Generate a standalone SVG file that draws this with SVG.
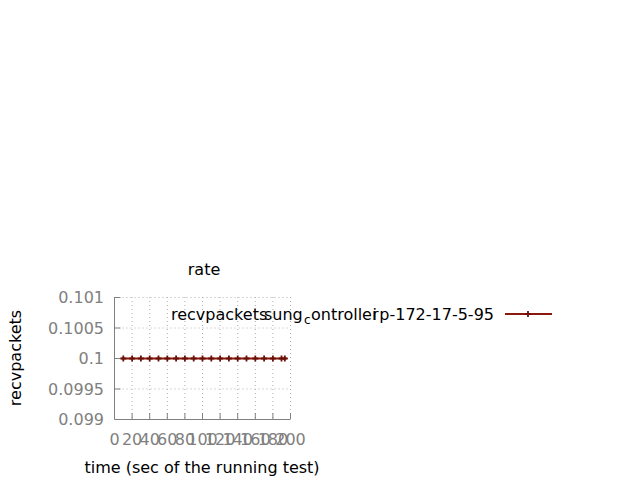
<svg xmlns="http://www.w3.org/2000/svg" width="640" height="480" viewBox="0 0 640 480">
<style>
text{font-family:"DejaVu Sans","Liberation Sans",sans-serif;font-size:16px;fill:#000}
.tick{fill:#808080}
.grid{stroke:#b0b0b0;stroke-width:1;stroke-dasharray:1,3;fill:none}
.axis{stroke:#808080;stroke-width:1;fill:none}
.data{stroke:#8b1a0e;stroke-width:2;fill:none}
.mk{stroke:#6a1006;stroke-width:1.8;fill:none}
</style>
<defs>
<path id="plus" class="mk" d="M-3,0H3M0,-3V3"/>
</defs>
<rect width="640" height="480" fill="#fff"/>
<g id="grid">
<path class="grid" d="M114.5,297.5H290.5M114.5,328H290.5M114.5,358.5H290.5M114.5,389H290.5"/>
<path class="grid" d="M132.1,297V419M149.7,297V419M167.3,297V419M184.9,297V419M202.5,297V419M220.1,297V419M237.7,297V419M255.3,297V419M272.9,297V419M290.5,297V419"/>
</g>
<g id="axes">
<path class="axis" d="M114.5,297V419.5H290.5"/>
<path class="axis" d="M114.5,297.5h6M114.5,328h6M114.5,358.5h6M114.5,389h6"/>
<path class="axis" d="M132.1,419v-6M149.7,419v-6M167.3,419v-6M184.9,419v-6M202.5,419v-6M220.1,419v-6M237.7,419v-6M255.3,419v-6M272.9,419v-6M290.5,419v-6"/>
</g>
<g id="ylabels" text-anchor="end">
<text class="tick" x="104" y="303">0.101</text>
<text class="tick" x="104" y="334">0.1005</text>
<text class="tick" x="104" y="364">0.1</text>
<text class="tick" x="104" y="395">0.0995</text>
<text class="tick" x="104" y="425">0.099</text>
</g>
<g id="xlabels" text-anchor="middle">
<text class="tick" x="114.5" y="445">0</text>
<text class="tick" x="132.1" y="445">20</text>
<text class="tick" x="149.7" y="445">40</text>
<text class="tick" x="167.3" y="445">60</text>
<text class="tick" x="184.9" y="445">80</text>
<text class="tick" x="202.5" y="445">100</text>
<text class="tick" x="220.1" y="445">120</text>
<text class="tick" x="237.7" y="445">140</text>
<text class="tick" x="255.3" y="445">160</text>
<text class="tick" x="272.9" y="445">180</text>
<text class="tick" x="290.5" y="445">200</text>
</g>
<g id="titles" text-anchor="middle">
<text x="204" y="275">rate</text>
<text x="202" y="473">time (sec of the running test)</text>
<text transform="translate(21,358) rotate(-90)">recvpackets</text>
</g>
<g id="legend">
<text x="171" y="320">recvpackets</text>
<text x="264" y="320">sung</text>
<text x="304" y="324" style="font-size:12px">c</text>
<text x="311" y="320">ontroller</text>
<text x="372.5" y="320">i</text>
<text x="494" y="320" text-anchor="end">p-172-17-5-95</text>
<path class="data" d="M505,314H552"/>
<use href="#plus" x="528" y="314"/>
</g>
<g id="connectors">
<path class="data" d="M121.5,358.5H286.5"/>
<use href="#plus" x="123.3" y="358.5"/>
<use href="#plus" x="132.1" y="358.5"/>
<use href="#plus" x="140.9" y="358.5"/>
<use href="#plus" x="149.7" y="358.5"/>
<use href="#plus" x="158.5" y="358.5"/>
<use href="#plus" x="167.3" y="358.5"/>
<use href="#plus" x="176.1" y="358.5"/>
<use href="#plus" x="184.9" y="358.5"/>
<use href="#plus" x="193.7" y="358.5"/>
<use href="#plus" x="202.5" y="358.5"/>
<use href="#plus" x="211.3" y="358.5"/>
<use href="#plus" x="220.1" y="358.5"/>
<use href="#plus" x="228.9" y="358.5"/>
<use href="#plus" x="237.7" y="358.5"/>
<use href="#plus" x="246.5" y="358.5"/>
<use href="#plus" x="255.3" y="358.5"/>
<use href="#plus" x="264.1" y="358.5"/>
<use href="#plus" x="272.9" y="358.5"/>
<use href="#plus" x="281.5" y="358.5"/>
<use href="#plus" x="284.8" y="358.5"/>
</g>
</svg>
